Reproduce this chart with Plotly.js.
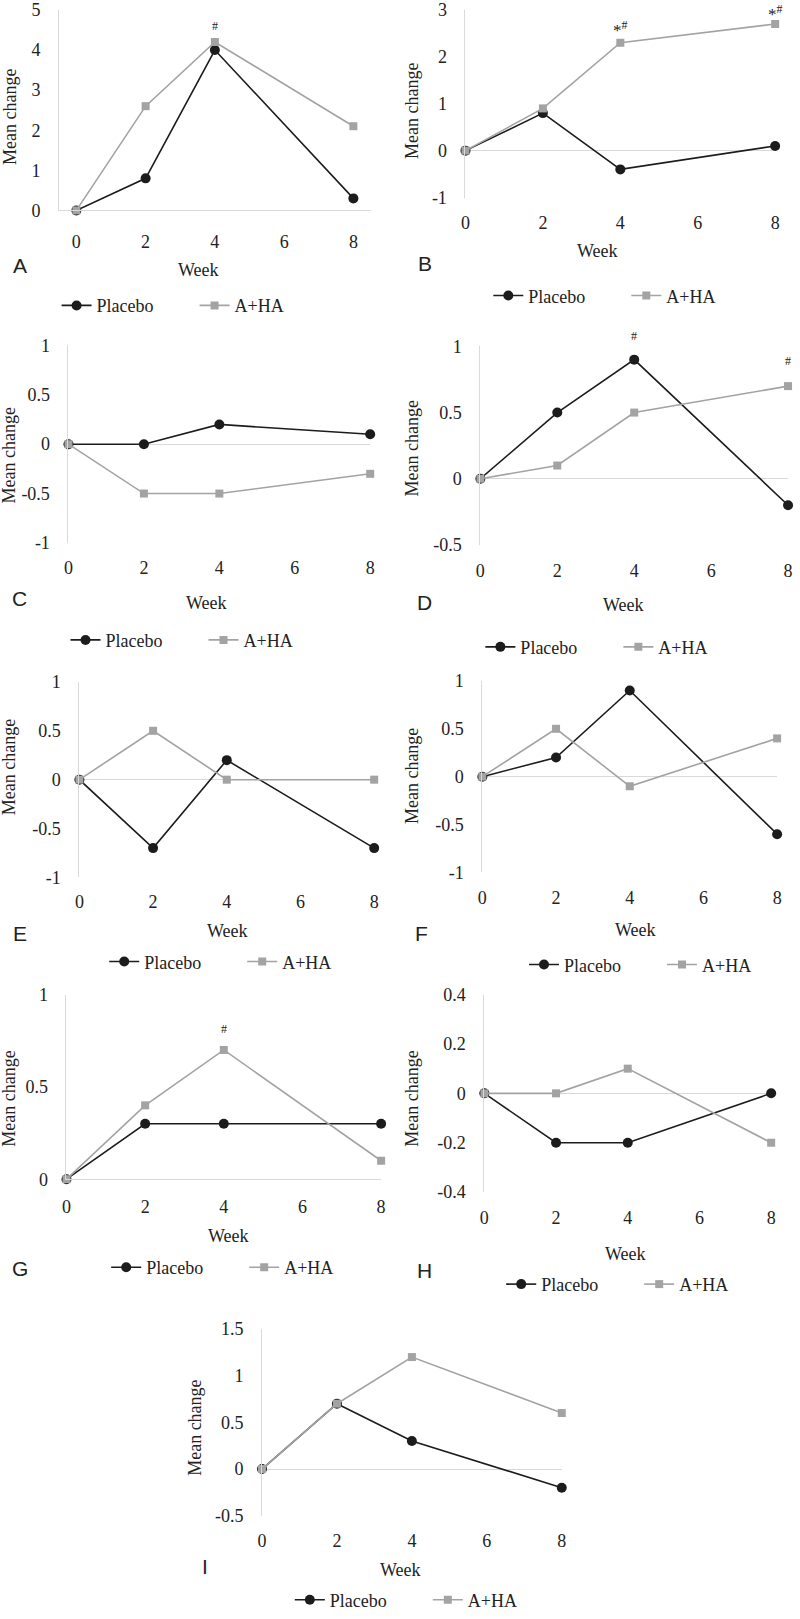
<!DOCTYPE html>
<html><head><meta charset="utf-8">
<script src="https://cdn.plot.ly/plotly-3.0.1.min.js"></script>
<style>html,body{margin:0;padding:0;background:#fff}</style>
</head><body><div id="chart" style="width:800px;height:1619px"></div>
<script>
// ---- data ----
const weeks = [0, 2, 4, 8];
const xTickVals = [0, 2, 4, 6, 8];
const xTickText = ['0', '2', '4', '6', '8'];
const seriesNames = ['Placebo', 'A+HA'];
const panelLetters = ['A', 'B', 'C', 'D', 'E', 'F', 'G', 'H', 'I'];

const placeboA = [0, 0.8, 4.0, 0.3];
const ahaA     = [0, 2.6, 4.2, 2.1];
const placeboB = [0, 0.8, -0.4, 0.1];
const ahaB     = [0, 0.9, 2.3, 2.7];
const placeboC = [0, 0, 0.2, 0.1];
const ahaC     = [0, -0.5, -0.5, -0.3];
const placeboD = [0, 0.5, 0.9, -0.2];
const ahaD     = [0, 0.1, 0.5, 0.7];
const placeboE = [0, -0.7, 0.2, -0.7];
const ahaE     = [0, 0.5, 0, 0];
const placeboF = [0, 0.2, 0.9, -0.6];
const ahaF     = [0, 0.5, -0.1, 0.4];
const placeboG = [0, 0.3, 0.3, 0.3];
const ahaG     = [0, 0.4, 0.7, 0.1];
const placeboH = [0, -0.2, -0.2, 0];
const ahaH     = [0, 0, 0.1, -0.2];
const placeboI = [0, 0.7, 0.3, -0.2];
const ahaI     = [0, 0.7, 1.2, 0.6];

const yTicksA = [0, 1, 2, 3, 4, 5];        const yLabelsA = ['0','1','2','3','4','5'];
const yTicksB = [-1, 0, 1, 2, 3];          const yLabelsB = ['-1','0','1','2','3'];
const yTicksC = [-1, -0.5, 0, 0.5, 1];     const yLabelsC = ['-1','-0.5','0','0.5','1'];
const yTicksD = [-0.5, 0, 0.5, 1];         const yLabelsD = ['-0.5','0','0.5','1'];
const yTicksE = [-1, -0.5, 0, 0.5, 1];     const yLabelsE = ['-1','-0.5','0','0.5','1'];
const yTicksF = [-1, -0.5, 0, 0.5, 1];     const yLabelsF = ['-1','-0.5','0','0.5','1'];
const yTicksG = [0, 0.5, 1];               const yLabelsG = ['0','0.5','1'];
const yTicksH = [-0.4, -0.2, 0, 0.2, 0.4]; const yLabelsH = ['-0.4','-0.2','0','0.2','0.4'];
const yTicksI = [-0.5, 0, 0.5, 1, 1.5];    const yLabelsI = ['-0.5','0','0.5','1','1.5'];

// significance marks: [panel index, week, value, text]
const sigMarks = [
  [0, 4, 4.2, '#'],
  [1, 4, 2.3, '*<sup>#</sup>'],
  [1, 8, 2.7, '*<sup>#</sup>'],
  [3, 4, 0.9, '#'],
  [3, 8, 0.7, '#'],
  [6, 4, 0.7, '#']
];

const placeboSeries = [placeboA, placeboB, placeboC, placeboD, placeboE, placeboF, placeboG, placeboH, placeboI];
const ahaSeries = [ahaA, ahaB, ahaC, ahaD, ahaE, ahaF, ahaG, ahaH, ahaI];
const yTicks = [yTicksA, yTicksB, yTicksC, yTicksD, yTicksE, yTicksF, yTicksG, yTicksH, yTicksI];
const yLabels = [yLabelsA, yLabelsB, yLabelsC, yLabelsD, yLabelsE, yLabelsF, yLabelsG, yLabelsH, yLabelsI];

// ---- layout geometry (pixels in 800x1619 page) ----
const W = 800, H = 1619;
const panels = [
  {l: 59.5, r: 373.5, t: 10,   b: 212,  xr: [-0.5, 8.5], yr: [0, 5],      base: true, so: 15,
   letter: [20, 267], week: [200, 272], mc: [10, 118], leg: [62, 308]},
  {l: 469, r: 781, t: 10,   b: 199,  xr: [0, 8], yr: [-1, 3], so: 12,
   letter: [428, 265], week: [602, 253], mc: [415, 112], leg: [497, 298]},
  {l: 69,  r: 373, t: 348,  b: 547,  xr: [0, 8], yr: [-1, 1], so: 12,
   letter: [20, 603], week: [208, 608], mc: [9, 459], leg: [71, 645]},
  {l: 484, r: 794, t: 349,  b: 549,  xr: [0, 8], yr: [-0.5, 1], so: 13,
   letter: [428, 607], week: [628, 610], mc: [415, 452], leg: [489, 652]},
  {l: 80,  r: 377, t: 687,  b: 884,  xr: [0, 8], yr: [-1, 1], so: 12,
   letter: [20, 940], week: [229, 938], mc: [9, 773], leg: [110, 969]},
  {l: 486, r: 783, t: 686,  b: 879,  xr: [0, 8], yr: [-1, 1], so: 13,
   letter: [425, 940], week: [640, 937], mc: [415, 782], leg: [533, 972]},
  {l: 67,  r: 384, t: 1002, b: 1188, xr: [0, 8], yr: [0, 1], base: true, so: 11,
   letter: [20, 1278], week: [230, 1245], mc: [9, 1107], leg: [112, 1277]},
  {l: 488, r: 777, t: 1002, b: 1201, xr: [0, 8], yr: [-0.4, 0.4], so: 13,
   letter: [428, 1280], week: [630, 1263], mc: [415, 1107], leg: [510, 1294]},
  {l: 264, r: 566, t: 1339, b: 1527, xr: [0, 8], yr: [-0.5, 1.5], so: 12,
   letter: [207, 1578], week: [404, 1582], mc: [197, 1439], leg: [297, 1612]}
];
const sigShifts = [16, 14, 11, 24, 25, 21];

const SERIF = '"Liberation Serif", "Times New Roman", Times, serif';
const SANS = '"Liberation Sans", Arial, sans-serif';
const TXT = '#222222';
const BLACK = '#1c1c1c';
const GRAY = '#a3a3a3';
const AXIS = '#d9d9d9';

const traces = [];
const layout = {
  width: W, height: H,
  margin: {l: 0, r: 0, t: 0, b: 0},
  paper_bgcolor: '#ffffff', plot_bgcolor: '#ffffff',
  showlegend: true,
  annotations: [],
  font: {family: SERIF, color: TXT, size: 18}
};

panels.forEach((p, i) => {
  const n = i + 1;
  const xk = 'xaxis' + (n === 1 ? '' : n);
  const yk = 'yaxis' + (n === 1 ? '' : n);
  const xr = 'x' + (n === 1 ? '' : n);
  const yr = 'y' + (n === 1 ? '' : n);
  const lg = 'legend' + (n === 1 ? '' : n);

  layout[xk] = {
    domain: [p.l / W, p.r / W], anchor: yr, range: p.xr,
    tickmode: 'array', tickvals: xTickVals, ticktext: xTickText,
    showgrid: false, zeroline: false,
    showline: !!p.base, linecolor: AXIS, linewidth: 1,
    ticks: '', ticklabelstandoff: p.so, ticklabeloverflow: 'allow',
    tickfont: {family: SERIF, size: 18, color: TXT}, fixedrange: true
  };
  layout[yk] = {
    domain: [1 - p.b / H, 1 - p.t / H], anchor: xr, range: p.yr,
    tickmode: 'array', tickvals: yTicks[i], ticktext: yLabels[i],
    showgrid: false, zeroline: true, zerolinecolor: AXIS, zerolinewidth: 1,
    showline: true, linecolor: AXIS, linewidth: 1,
    ticks: '', ticklabelstandoff: 14, ticklabeloverflow: 'allow',
    tickfont: {family: SERIF, size: 18, color: TXT}, fixedrange: true
  };
  layout[lg] = {
    orientation: 'h', x: (p.leg[0] - 5) / W, xanchor: 'left',
    y: 1 - p.leg[1] / H, yanchor: 'middle',
    entrywidth: 93, entrywidthmode: 'pixels',
    bgcolor: 'rgba(0,0,0,0)', borderwidth: 0,
    font: {family: SERIF, size: 18, color: TXT}
  };

  traces.push({
    x: weeks, y: placeboSeries[i], xaxis: xr, yaxis: yr, legend: lg,
    name: seriesNames[0], mode: 'lines+markers', cliponaxis: false,
    line: {color: BLACK, width: 1.6},
    marker: {symbol: 'circle', size: 10, color: BLACK}
  });
  traces.push({
    x: weeks, y: ahaSeries[i], xaxis: xr, yaxis: yr, legend: lg,
    name: seriesNames[1], mode: 'lines+markers', cliponaxis: false,
    line: {color: GRAY, width: 1.6},
    marker: {symbol: 'square', size: 8, color: GRAY}
  });

  layout.annotations.push({
    xref: 'paper', yref: 'paper', x: p.letter[0] / W, y: 1 - p.letter[1] / H,
    xanchor: 'center', yanchor: 'middle', showarrow: false,
    text: panelLetters[i], font: {family: SANS, size: 21, color: TXT}
  });
  layout.annotations.push({
    xref: 'paper', yref: 'paper', x: p.week[0] / W, y: 1 - p.week[1] / H,
    xanchor: 'center', yanchor: 'middle', showarrow: false,
    text: 'Week', font: {family: SERIF, size: 18, color: TXT}
  });
  layout.annotations.push({
    xref: 'paper', yref: 'paper', x: p.mc[0] / W, y: 1 - p.mc[1] / H,
    xanchor: 'center', yanchor: 'middle', showarrow: false, textangle: -90,
    text: 'Mean change', font: {family: SERIF, size: 18, color: TXT}
  });
});

sigMarks.forEach((s, k) => {
  const n = s[0] + 1;
  const isStar = s[3].indexOf('*') >= 0;
  layout.annotations.push({
    xref: 'x' + (n === 1 ? '' : n), yref: 'y' + (n === 1 ? '' : n),
    x: s[1], y: s[2], yshift: sigShifts[k], showarrow: false,
    xanchor: 'center', yanchor: 'middle',
    text: s[3], font: {family: SERIF, size: isStar ? 17 : 12, color: TXT}
  });
});

Plotly.newPlot('chart', traces, layout, {staticPlot: true, displayModeBar: false});
</script>
</body></html>
